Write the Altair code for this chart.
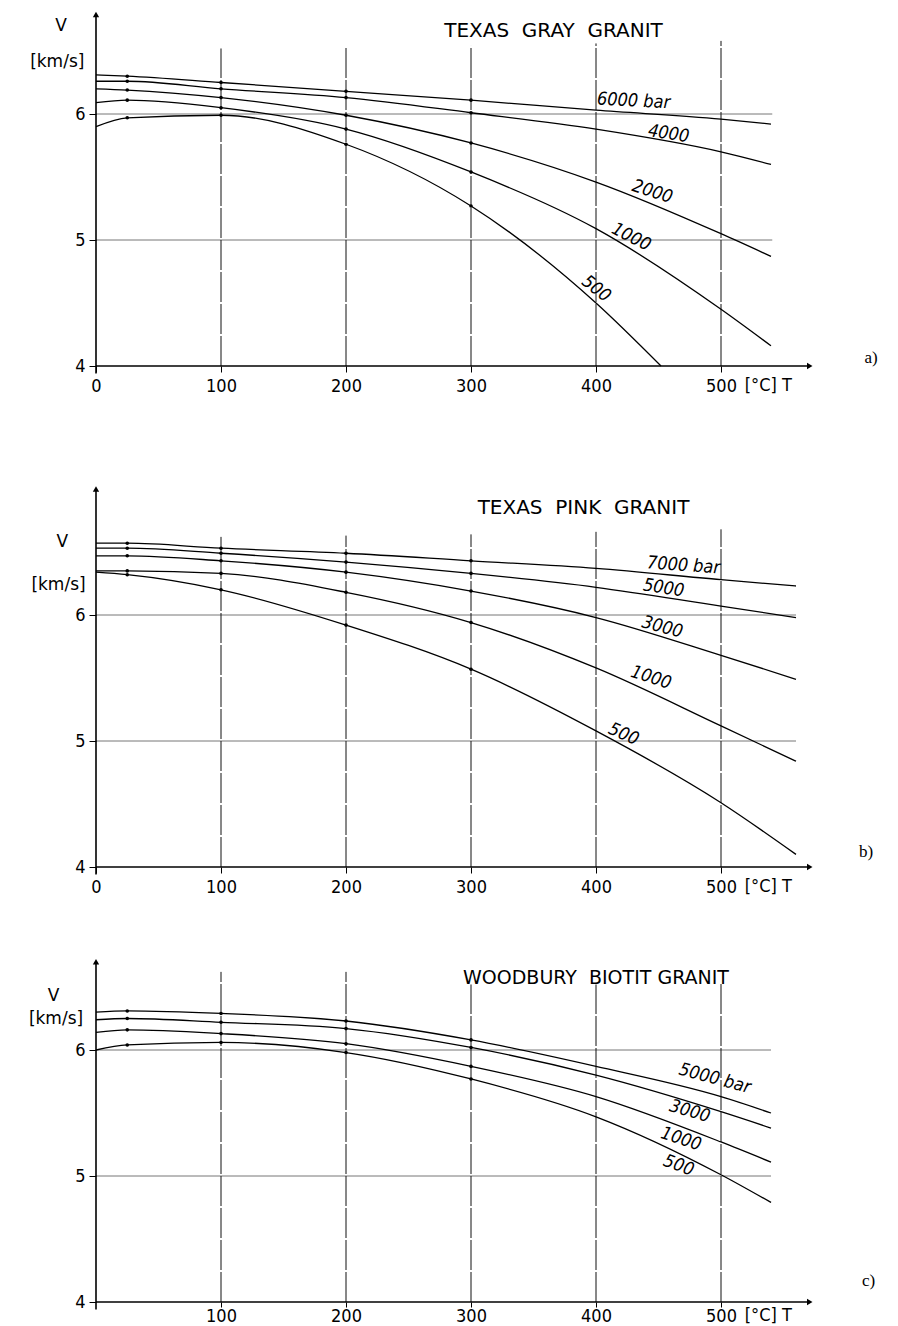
import altair as alt
import pandas as pd

# ---------------- data ----------------
# a) TEXAS GRAY GRANIT
A_T = [0, 25, 100, 200, 300, 400, 500, 540]
A_T500 = [0, 25, 100, 200, 300, 400, 452]
A_6000 = [6.31, 6.30, 6.25, 6.18, 6.11, 6.03, 5.96, 5.92]
A_4000 = [6.26, 6.26, 6.20, 6.13, 6.01, 5.88, 5.70, 5.60]
A_2000 = [6.20, 6.19, 6.13, 5.99, 5.77, 5.46, 5.05, 4.87]
A_1000 = [6.09, 6.11, 6.05, 5.88, 5.54, 5.09, 4.45, 4.16]
A_500 = [5.90, 5.97, 5.99, 5.76, 5.27, 4.50, 4.00]

# b) TEXAS PINK GRANIT
B_T = [0, 25, 100, 200, 300, 400, 500, 560]
B_7000 = [6.57, 6.57, 6.53, 6.49, 6.43, 6.37, 6.28, 6.23]
B_5000 = [6.53, 6.53, 6.49, 6.42, 6.33, 6.22, 6.07, 5.98]
B_3000 = [6.47, 6.47, 6.43, 6.34, 6.19, 5.98, 5.68, 5.49]
B_1000 = [6.35, 6.35, 6.33, 6.18, 5.94, 5.58, 5.12, 4.84]
B_500 = [6.34, 6.32, 6.20, 5.92, 5.57, 5.08, 4.51, 4.10]

# c) WOODBURY BIOTIT GRANIT
C_T = [0, 25, 100, 200, 300, 400, 500, 540]
C_5000 = [6.30, 6.31, 6.29, 6.23, 6.08, 5.87, 5.63, 5.50]
C_3000 = [6.24, 6.25, 6.22, 6.17, 6.02, 5.80, 5.51, 5.38]
C_1000 = [6.14, 6.16, 6.13, 6.05, 5.87, 5.63, 5.27, 5.11]
C_500 = [6.00, 6.04, 6.06, 5.98, 5.77, 5.47, 5.01, 4.79]

DOT_T = [25, 100, 200, 300]
GRID_T = [100, 200, 300, 400, 500]

# curve labels: text, T, V, angle
A_LAB = [("6000 bar", 430, 6.10, 3), ("4000", 458, 5.84, 9), ("2000", 445, 5.38, 18),
         ("1000", 428, 5.02, 27), ("500", 400, 4.61, 38)]
B_LAB = [("7000 bar", 470, 6.39, 4), ("5000", 454, 6.21, 9), ("3000", 453, 5.90, 15),
         ("1000", 444, 5.50, 18), ("500", 422, 5.05, 24)]
C_LAB = [("5000 bar", 495, 5.77, 15), ("3000", 475, 5.51, 16), ("1000", 468, 5.29, 18),
         ("500", 466, 5.08, 20)]

# ---------------- layout constants ----------------
K = 126.0      # px per km/s
KX = 1.25      # px per degC
W = 781
XMAX = W / KX
ARROW_T = 571

FONT_NUM = "Liberation Sans Narrow, DejaVu Sans Condensed, DejaVu Sans"
FONT_TXT = "DejaVu Sans"
FONT_SERIF = "Liberation Serif, DejaVu Serif"
NB = "\u00a0"


def build(series, title, title_T, title_V, title_size, letter, letter_T, letter_V,
          t_end, vgrid_tops, arrow_top, height, xvals, vpos, kpos, labels,
          xtick=6, xpad=5, unit_dy=11):
    ytop = 4 + height / K
    xs = alt.Scale(domain=[0, XMAX], nice=False, zero=False)
    ys = alt.Scale(domain=[4, ytop], nice=False, zero=False)
    xax = alt.Axis(values=xvals, domain=False, grid=False, tickSize=xtick, tickColor="black",
                   tickWidth=1, labelPadding=xpad, labelFontSize=18, labelFont=FONT_NUM,
                   labelColor="black", title=None, labelFlush=False, labelOverlap=False)
    yax = alt.Axis(values=[4, 5, 6], domain=False, grid=False, tickSize=7, tickColor="black",
                   tickWidth=1, labelPadding=4, labelFontSize=18, labelFont=FONT_NUM,
                   labelColor="black", title=None, labelFlush=False, labelOverlap=False)

    def X(f):
        return alt.X(f, type="quantitative", scale=xs, axis=xax)

    def Y(f):
        return alt.Y(f, type="quantitative", scale=ys, axis=yax)

    rows = []
    dots = []
    for name, ts, vs in series:
        for t, v in zip(ts, vs):
            rows.append({"p": name, "T": t, "V": v})
            if t in DOT_T:
                dots.append({"p": name, "T": t, "V": v})
    cdf = pd.DataFrame(rows)
    ddf = pd.DataFrame(dots)

    hgrid = alt.Chart(pd.DataFrame({"V": [5, 6], "T0": [0, 0], "T1": [t_end, t_end]})).mark_rule(
        color="#666", strokeWidth=0.9).encode(x=X("T0"), x2="T1", y=Y("V"))
    vgrid = alt.Chart(pd.DataFrame({"T": GRID_T, "V0": [4] * 5, "V1": vgrid_tops})).mark_rule(
        color="#111", strokeWidth=1, strokeDash=[30, 2]).encode(x=X("T"), y=Y("V0"), y2="V1")
    yline = alt.Chart(pd.DataFrame({"T": [0], "V0": [3.94], "V1": [arrow_top]})).mark_rule(
        color="black", strokeWidth=1.6).encode(x=X("T"), y=Y("V0"), y2="V1")
    xline = alt.Chart(pd.DataFrame({"V": [4], "T0": [0], "T1": [ARROW_T]})).mark_rule(
        color="black", strokeWidth=1.3).encode(x=X("T0"), x2="T1", y=Y("V"))
    arrows = alt.Chart(pd.DataFrame({"T": [0, ARROW_T], "V": [arrow_top, 4],
                                     "s": ["triangle-up", "triangle-right"]})).mark_point(
        filled=True, color="black", opacity=1, size=40).encode(
        x=X("T"), y=Y("V"), shape=alt.Shape("s:N", scale=None))
    lines = alt.Chart(cdf).mark_line(color="black", strokeWidth=1.3, interpolate="monotone").encode(
        x=X("T"), y=Y("V"), detail="p:N")
    pts = alt.Chart(ddf).mark_circle(color="black", size=13, opacity=1).encode(x=X("T"), y=Y("V"))
    ldf = pd.DataFrame([{"t": a, "T": b, "V": c, "ang": d} for a, b, c, d in labels])
    ltext = alt.Chart(ldf).mark_text(font=FONT_NUM, fontSize=18, fontStyle="italic", color="black",
                                     align="center", baseline="middle").encode(
        x=X("T"), y=Y("V"), text="t:N", angle=alt.Angle("ang:Q", scale=None))
    ttl = alt.Chart(pd.DataFrame({"t": [title], "T": [title_T], "V": [title_V]})).mark_text(
        font=FONT_TXT, fontSize=title_size, color="black", align="center", baseline="middle").encode(
        x=X("T"), y=Y("V"), text="t:N")
    units = alt.Chart(pd.DataFrame({"t": ["V", "[km/s]"], "T": [vpos[0], kpos[0]],
                                    "V": [vpos[1], kpos[1]]})).mark_text(
        font=FONT_TXT, fontSize=17, color="black", align="center", baseline="middle").encode(
        x=X("T"), y=Y("V"), text="t:N")
    tunit = alt.Chart(pd.DataFrame({"t": ["[°C] T"], "T": [519], "V": [4]})).mark_text(
        font=FONT_NUM, fontSize=18, color="black", align="left", baseline="top", dy=unit_dy).encode(
        x=X("T"), y=Y("V"), text="t:N")
    let = alt.Chart(pd.DataFrame({"t": [letter], "T": [letter_T], "V": [letter_V]})).mark_text(
        font=FONT_SERIF, fontSize=17, color="black", align="center", baseline="middle").encode(
        x=X("T"), y=Y("V"), text="t:N")

    return alt.layer(hgrid, vgrid, yline, xline, arrows, lines, pts, ltext, ttl, units, tunit,
                     let).properties(width=W, height=height)


pa = build([("6000", A_T, A_6000), ("4000", A_T, A_4000), ("2000", A_T, A_2000),
            ("1000", A_T, A_1000), ("500", A_T500, A_500)],
           NB.join(["TEXAS", "", "GRAY", "", "GRANIT"]), 366, 6.66, 20, "a)", 620, 4.06,
           541, [6.52, 6.53, 6.54, 6.56, 6.58], 6.79, 358, [0, 100, 200, 300, 400, 500],
           (-28, 6.70), (-31, 6.41), A_LAB)
pb = build([("7000", B_T, B_7000), ("5000", B_T, B_5000), ("3000", B_T, B_3000),
            ("1000", B_T, B_1000), ("500", B_T, B_500)],
           NB.join(["TEXAS", "", "PINK", "", "GRANIT"]), 390, 6.85, 20, "b)", 616, 4.12,
           560, [6.62, 6.63, 6.64, 6.66, 6.68], 7.0, 472, [0, 100, 200, 300, 400, 500],
           (-27, 6.58), (-30, 6.24), B_LAB)
pc = build([("5000", C_T, C_5000), ("3000", C_T, C_3000), ("1000", C_T, C_1000),
            ("500", C_T, C_500)],
           NB.join(["WOODBURY", "", "BIOTIT GRANIT"]), 400, 6.57, 19, "c)", 618, 4.17,
           540, [6.62, 6.62, 6.52, 6.52, 6.53], 6.70, 406, [100, 200, 300, 400, 500],
           (-34, 6.43), (-32, 6.25), C_LAB, xtick=5, xpad=0, unit_dy=5)

chart = alt.vconcat(pa, pb, pc, spacing=0).properties(
    padding={"left": 20, "top": 0, "right": 5, "bottom": 0},
    background="white",
).configure_view(stroke=None)

chart.save("out.html", embed_options={"renderer": "svg", "actions": False})
